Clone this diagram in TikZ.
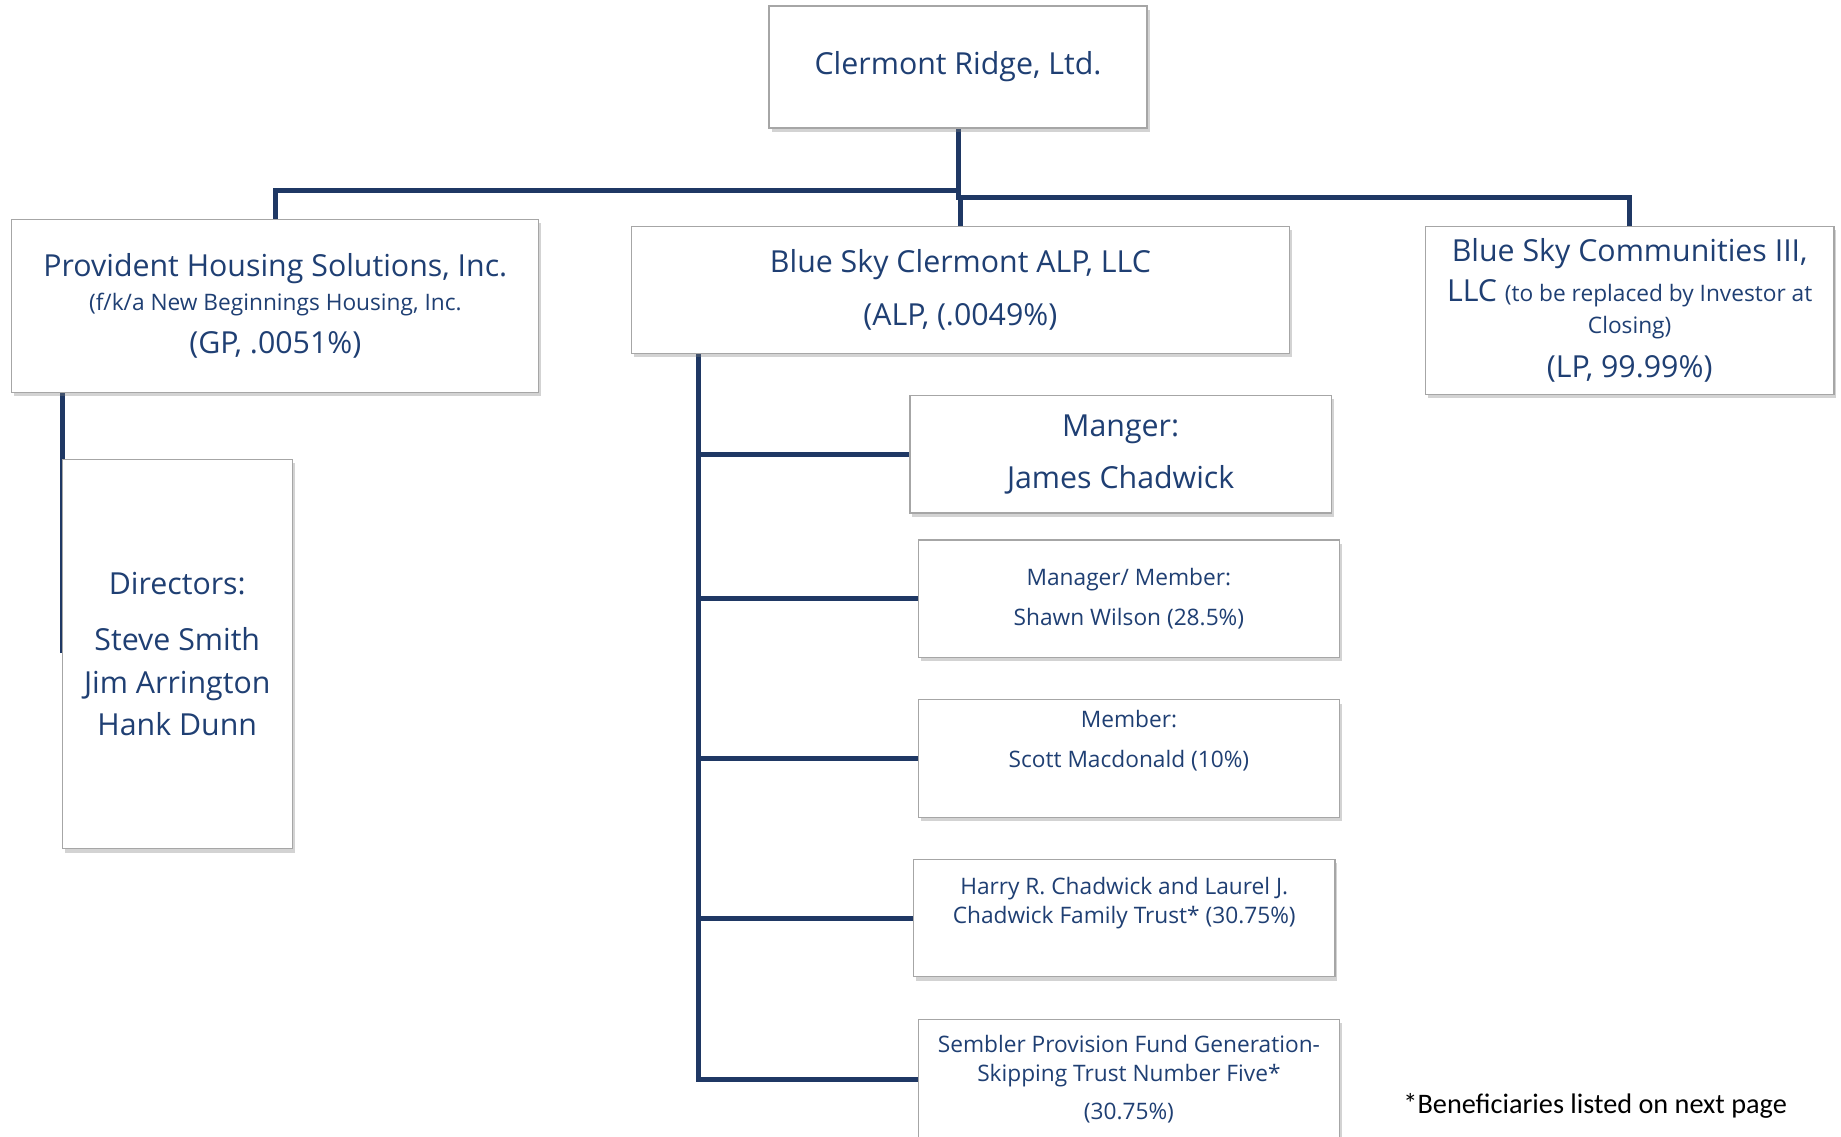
\documentclass[tikz,border=0pt]{standalone}
\usepackage{fontspec}
\setmainfont{Open Sans}
\newfontfamily\notefont{Carlito}
\usetikzlibrary{shadows, backgrounds}

\definecolor{navy}{HTML}{1F3864}
\definecolor{navytext}{HTML}{1F3F73}
\definecolor{boxline}{HTML}{A6A6A6}
\newcommand{\bigtxt}{\fontsize{14.7}{20}\selectfont}
\newcommand{\smalltxt}{\fontsize{11}{14}\selectfont}

\begin{document}
\begin{tikzpicture}[x = 0.02cm, y = -0.02cm,
	box/.style = {draw = boxline, line width = 0.6pt, fill = white, inner sep = 0pt, outer sep = 0pt, align = center, text = navytext, font = \bigtxt, drop shadow = {shadow xshift = 1.2pt, shadow yshift = -1.8pt, opacity = 0.35}},
	member/.style = {box, font = \smalltxt, minimum width = 7.18cm, minimum height = 2cm},
	link/.style = {draw = navy, line width = 2.4pt}]

\useasboundingbox (0,0) rectangle (1568, 968);

\node[box, minimum width = 6.44cm, minimum height = 2.08cm] (top) at (816, 57) {Clermont Ridge, Ltd.};

\node[box, minimum width = 8.98cm, minimum height = 2.94cm] (prov) at (234.5, 260.5) {Provident Housing Solutions, Inc.\\[-3.5pt] {\smalltxt (f/k/a New Beginnings Housing, Inc.}\\[1pt] (GP, .0051\%)};
\node[box, minimum width = 11.22cm, minimum height = 2.16cm] (alp) at (818, 247) {Blue Sky Clermont ALP, LLC\\[5.5pt] (ALP, (.0049\%)};
\node[box, minimum width = 6.96cm, minimum height = 2.86cm] (comm) at (1388, 264.5) {Blue Sky Communities III,\\[-0.7pt] LLC {\smalltxt (to be replaced by Investor at}\\[-4.7pt] {\smalltxt Closing)}\\[1.5pt] (LP, 99.99\%)};

\node[box, minimum width = 3.92cm, minimum height = 6.64cm] (dir) at (151, 557) {Directors:\\[7pt] Steve Smith\\[1pt] Jim Arrington\\ Hank Dunn};

\node[member, font = \bigtxt] (mgr) at (954.5, 387) {Manger:\\[5.5pt] James Chadwick};
\node[member] (sw) at (961.5, 510) {Manager/ Member:\\[5.3pt] Shawn Wilson (28.5\%)};
\node[member] (sm) at (961.5, 646) {Member:\\[5.3pt] Scott Macdonald (10\%)\\[5.3pt] \mbox{}};
\node[member] (hc) at (957.5, 782) {Harry R. Chadwick and Laurel J.\\ Chadwick Family Trust* (30.75\%)\\[3.6pt] \mbox{}};
\node[member, minimum height = 2.04cm] (sp) at (961.5, 919) {Sembler Provision Fund Generation-\\ Skipping Trust Number Five*\\[4.7pt] (30.75\%)};

\node[anchor = west, inner sep = 0pt, font = \notefont\fontsize{13.7}{16}\selectfont] (note) at (1195, 942) {*Beneficiaries listed on next page};

\begin{scope}[on background layer]
	\coordinate (jl) at (816, 162);
	\coordinate (jr) at (818, 168);
	\draw[link] (top.south) -- (jl) -| (prov.north);
	\draw[link] (jl) |- (jr) -| (comm.north);
	\draw[link] (jr) -- (alp.north);

	\coordinate (gptap) at (53, 556);
	\draw[link] (gptap |- prov.south) -- (gptap);

	\coordinate (alptap) at (595, 919);
	\draw[link] (alptap |- alp.south) -- (alptap) -- (sp.west);
	\foreach \n in {mgr, sw, sm, hc}
		\draw[link] (alptap |- \n.west) -- (\n.west);
\end{scope}

\end{tikzpicture}
\end{document}
